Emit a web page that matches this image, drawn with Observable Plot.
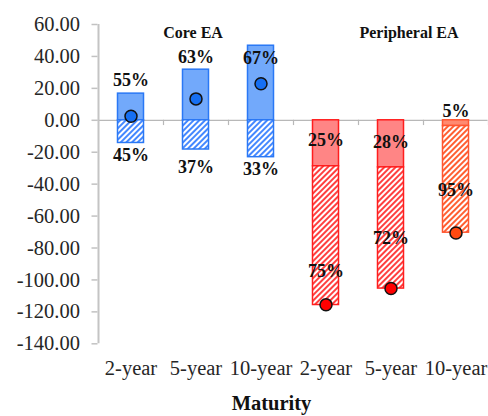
<!DOCTYPE html>
<html><head><meta charset="utf-8">
<script src="https://cdn.jsdelivr.net/npm/d3@7"></script>
<script src="https://cdn.jsdelivr.net/npm/@observablehq/plot@0.6"></script>
<style>
body{margin:0;background:#fff;}
#chart svg g[aria-label="y-axis tick"]{stroke:#c2c2c2;stroke-width:1.5px;}
</style></head><body><div id="chart"></div>
<script>
// ---- data ----
const groups = ["Core EA","Core EA","Core EA","Peripheral EA","Peripheral EA","Peripheral EA"];
const maturities = ["2-year","5-year","10-year","2-year","5-year","10-year"];
const solidPart = [16.7, 31.7, 46.7, -28.8, -29.5, -3.6];
const hatchedPart = [-14.2, -18.3, -23.1, -86.9, -75.9, -66.8];
const netValue = [2.5, 13.4, 22.9, -115.6, -105.4, -70.6];
const solidShare = ["55%","63%","67%","25%","28%","5%"];
const hatchedShare = ["45%","37%","33%","75%","72%","95%"];
const yTicks = [-140,-120,-100,-80,-60,-40,-20,0,20,40,60];
const groupTitles = ["Core EA","Peripheral EA"];
// annotation anchors for the share labels (y units)
const solidLabelAt = [25, 39.4, 38.9, -12.7, -13.6, 5.6];
const hatchedLabelAt = [-22, -29.2, -30.8, -94.4, -73.9, -44];

// ---- styles ----
const styles = {
  blue:   {fill:"#72a9fb", stroke:"#2a78f5", hatch:"url(#hatchBlue)", dot:"#166ff2"},
  red:    {fill:"#ff8585", stroke:"#ff1e1e", hatch:"url(#hatchRed)", dot:"#ff0000"},
  orange: {fill:"#ff8a70", stroke:"#ff5530", hatch:"url(#hatchOrange)", dot:"#ff4a10"}
};

const keys = maturities.map((m,i) => groups[i] + "|" + m);
const rows = keys.map((key,i) => {
  const base = solidPart[i] < 0 ? solidPart[i] : 0;
  return {
    key, group: groups[i],
    solid: solidPart[i], hb: base, ht: base + hatchedPart[i],
    net: netValue[i],
    sLab: solidShare[i], hLab: hatchedShare[i],
    sAt: solidLabelAt[i], hAt: hatchedLabelAt[i],
    style: groups[i] === "Core EA" ? "blue" : (maturities[i] === "10-year" ? "orange" : "red")
  };
});

const barMarks = [];
for (const s of Object.keys(styles)) {
  const d = rows.filter(r => r.style === s);
  const st = styles[s];
  barMarks.push(
    Plot.barY(d, {x:"key", y1:0, y2:"solid", fill:st.fill, stroke:st.stroke, strokeWidth:1.5, insetLeft:19.5, insetRight:19.5}),
    Plot.barY(d, {x:"key", y1:"hb", y2:"ht", fill:st.hatch, stroke:st.stroke, strokeWidth:1.5, insetLeft:19.5, insetRight:19.5})
  );
}
const dotMarks = Object.keys(styles).map(s =>
  Plot.dot(rows.filter(r => r.style === s), {x:"key", y:"net", r:6, fill:styles[s].dot, stroke:"#111", strokeWidth:1.5})
);

const half = 32.5;
const chart = Plot.plot({
  width: 488, height: 416,
  marginLeft: 97.5, marginRight: 0.5, marginTop: 24, marginBottom: 72.7,
  style: {fontFamily: "'Liberation Serif', 'Times New Roman', serif", fontSize: "20.5px", color: "#262626", background: "#fff"},
  x: {domain: keys, padding: 0, tickSize: 0, tickPadding: 17, tickFormat: k => k.split("|")[1], label: null},
  y: {domain: [-140, 60], ticks: yTicks, tickFormat: d => d.toFixed(2), tickSize: 6, tickPadding: 12, label: null},
  marks: [
    Plot.ruleY([0], {stroke: "#b8b8b8", strokeWidth: 1.2}),
    Plot.ruleX([keys[0]], {x: d => d, dx: -half, y1: -140, y2: 60, stroke: "#c4c4c4", strokeWidth: 2}),
    Plot.ruleX(keys, {x: d => d, dx: half, y1: 0, y2: -3.3, stroke: "#b8b8b8", strokeWidth: 1.2}),
    ...barMarks,
    ...dotMarks,
    Plot.text(rows, {x:"key", y:"sAt", text:"sLab", fontSize:18, fontWeight:"bold", fill:"#111", lineAnchor:"middle"}),
    Plot.text(rows, {x:"key", y:"hAt", text:"hLab", fontSize:18, fontWeight:"bold", fill:"#111", lineAnchor:"middle"}),
    Plot.text([groupTitles[0]], {x: () => keys[1], y: () => 54.6, text: d => d, dx: -3, fontSize: 16, fontWeight: "bold", fill:"#111", lineAnchor:"middle"}),
    Plot.text([groupTitles[1]], {x: () => keys[4], y: () => 54.6, text: d => d, dx: 18, fontSize: 16, fontWeight: "bold", fill:"#111", lineAnchor:"middle"}),
    Plot.text(["Maturity"], {frameAnchor: "bottom", text: d => d, dy: 60, dx: -21.5, fontSize: 20.5, fontWeight: "bold", fill:"#111", lineAnchor:"middle"})
  ]
});

const defs = document.createElementNS("http://www.w3.org/2000/svg", "defs");
const pat = (id, col) => `<pattern id="${id}" patternUnits="userSpaceOnUse" width="4" height="4" patternTransform="rotate(45)"><rect width="4" height="4" fill="#fff"/><line x1="2" y1="0" x2="2" y2="4" stroke="${col}" stroke-width="1.8"/></pattern>`;
defs.innerHTML = pat("hatchBlue", "#2f7bff") + pat("hatchRed", "#ff2a2a") + pat("hatchOrange", "#ff4d1a");
chart.insertBefore(defs, chart.firstChild);
document.getElementById("chart").appendChild(chart);
</script></body></html>
